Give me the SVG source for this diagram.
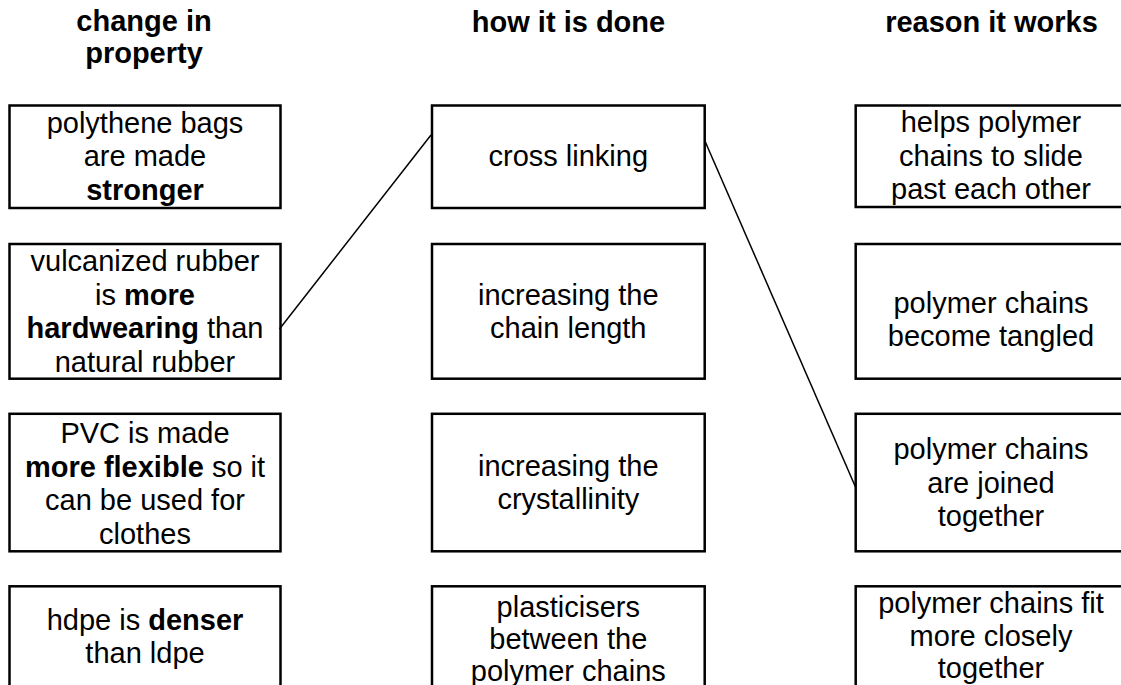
<svg xmlns="http://www.w3.org/2000/svg" width="1121" height="685" viewBox="0 0 1121 685">
<style>
  text { font-family: "Liberation Sans", Arial, sans-serif; font-size: 29px; fill: #000; text-anchor: middle; }
  .h { font-weight: bold; }
  .b { font-weight: bold; }
  rect.box { fill: #fff; stroke: #000; stroke-width: 2.5; }
  .conn line { stroke: #000; stroke-width: 1.5; fill: none; }
</style>
<rect width="1121" height="685" fill="#fff"/>
<g id="headers">
  <text class="h" x="144" y="31">change in</text>
  <text class="h" x="144" y="63">property</text>
  <text class="h" x="568.5" y="32">how it is done</text>
  <text class="h" x="991.5" y="32">reason it works</text>
</g>
<g id="L1"><rect class="box" x="9.5" y="105.5" width="271" height="102.5"/>
  <text x="145" y="132.5">polythene bags</text>
  <text x="145" y="166">are made</text>
  <text x="145" y="199.5" class="b">stronger</text></g>
<g id="L2"><rect class="box" x="9.5" y="244" width="271" height="134.7"/>
  <text x="145" y="271">vulcanized rubber</text>
  <text x="145" y="304.5">is <tspan class="b">more</tspan></text>
  <text x="145" y="338"><tspan class="b">hardwearing</tspan> than</text>
  <text x="145" y="371.5">natural rubber</text></g>
<g id="L3"><rect class="box" x="9.5" y="413.8" width="271" height="137.5"/>
  <text x="145" y="443">PVC is made</text>
  <text x="145" y="476.5"><tspan class="b">more flexible</tspan> so it</text>
  <text x="145" y="510">can be used for</text>
  <text x="145" y="543.5">clothes</text></g>
<g id="L4"><rect class="box" x="9.5" y="586.3" width="271" height="137"/>
  <text x="145" y="629.5">hdpe is <tspan class="b">denser</tspan></text>
  <text x="145" y="663">than ldpe</text></g>
<g id="M1"><rect class="box" x="432" y="105.5" width="272.7" height="102.5"/>
  <text x="568.3" y="165.5">cross linking</text></g>
<g id="M2"><rect class="box" x="432" y="244" width="272.7" height="134.7"/>
  <text x="568.3" y="304.5">increasing the</text>
  <text x="568.3" y="338">chain length</text></g>
<g id="M3"><rect class="box" x="432" y="413.8" width="272.7" height="137.5"/>
  <text x="568.3" y="475.5">increasing the</text>
  <text x="568.3" y="509">crystallinity</text></g>
<g id="M4"><rect class="box" x="432" y="586.3" width="272.7" height="137"/>
  <text x="568.3" y="616.5">plasticisers</text>
  <text x="568.3" y="648.5">between the</text>
  <text x="568.3" y="680.5">polymer chains</text></g>
<g id="R1"><rect class="box" x="855.7" y="105.5" width="272" height="101.5"/>
  <text x="991" y="132">helps polymer</text>
  <text x="991" y="165.5">chains to slide</text>
  <text x="991" y="198.5">past each other</text></g>
<g id="R2"><rect class="box" x="855.7" y="244" width="272" height="134.7"/>
  <text x="991" y="313">polymer chains</text>
  <text x="991" y="346">become tangled</text></g>
<g id="R3"><rect class="box" x="855.7" y="413.8" width="272" height="137.5"/>
  <text x="991" y="459">polymer chains</text>
  <text x="991" y="492.5">are joined</text>
  <text x="991" y="526">together</text></g>
<g id="R4"><rect class="box" x="855.7" y="586.3" width="272" height="137"/>
  <text x="991" y="613">polymer chains fit</text>
  <text x="991" y="645.5">more closely</text>
  <text x="991" y="678">together</text></g>
<g id="connectors" class="conn">
  <line x1="279.5" y1="329" x2="431" y2="135"/>
  <line x1="704.5" y1="140" x2="855.5" y2="487"/>
</g>
</svg>
